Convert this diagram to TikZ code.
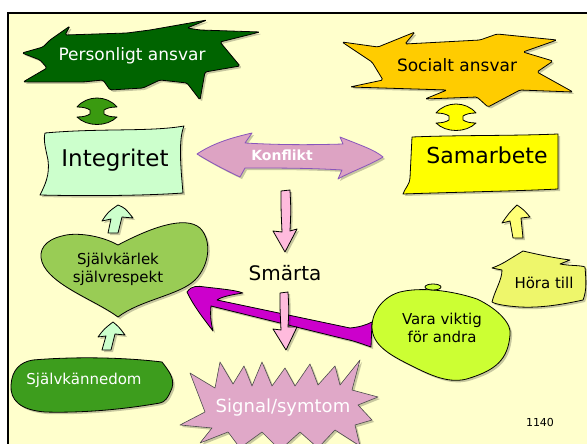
\documentclass[tikz,border=0pt]{standalone}
\usepackage{fontspec}
\setmainfont{DejaVu Sans}
\definecolor{bgy}{HTML}{FFFFCC}
\definecolor{dkgreen}{HTML}{006400}
\definecolor{midgreen}{HTML}{3A9A10}
\definecolor{kgreen}{HTML}{3D9D1D}
\definecolor{mint}{HTML}{CCFFCC}
\definecolor{heartg}{HTML}{99CC55}
\definecolor{gold}{HTML}{FFCC00}
\definecolor{yel}{HTML}{FFFF00}
\definecolor{yarrow}{HTML}{FFFF77}
\definecolor{hora}{HTML}{EEF66B}
\definecolor{vara}{HTML}{CCFF33}
\definecolor{mag}{HTML}{CC00CC}
\definecolor{pinkarr}{HTML}{FFBBDD}
\definecolor{konf}{HTML}{DDA3C3}
\definecolor{konfline}{HTML}{8855BB}
\definecolor{sig}{HTML}{E0A8C8}
\tikzset{
  shade/.style={preaction={fill=black,opacity=0.22,transform canvas={xshift=2pt,yshift=-2pt}}},
  shapeline/.style={draw=black,line width=0.8pt,line join=round},
  lbl/.style={inner sep=0pt,align=center},
  ishape/.pic={\path[pic actions] (-20,-4) .. controls (-10,-16) and (10,-16) .. (20,-4)
     .. controls (14,-4) and (10,-3) .. (7,-1) -- (7,3)
     .. controls (10,5) and (14,6) .. (20,6)
     .. controls (10,16) and (-10,16) .. (-20,6)
     .. controls (-14,6) and (-10,5) .. (-7,3) -- (-7,-1)
     .. controls (-10,-3) and (-14,-4) .. (-20,-4) -- cycle;}
}
\begin{document}
\begin{tikzpicture}[x=1pt,y=-1pt]
\useasboundingbox (0,0) rectangle (587,444);
\fill[white] (0,0) rectangle (587,444);
\fill[bgy] (8,13) rectangle (587,444);
\draw[line width=2.5pt] (8,444) -- (8,13) -- (587,13);

% Personligt ansvar
\path[shapeline,fill=dkgreen,shade,rounded corners=1.5pt]
 (22,53) -- (43,47) -- (50,40) -- (70,26) -- (65,35) -- (127,33) -- (150,30) -- (207,20)
 -- (187,28) -- (200,30) -- (260,32) -- (220,42) -- (240,66) -- (205,72) -- (200,100)
 -- (187,83) -- (160,80) -- (143,88) -- (110,90) -- (103,80) -- (83,82) -- (23,82)
 -- (47,68) -- (40,60) -- cycle;
\node[lbl,text=white,font=\fontsize{17}{20}\selectfont] (pers) at (132,56) {Personligt ansvar};

% Socialt ansvar
\path[shapeline,fill=gold,shade,rounded corners=1.5pt]
 (342,42) -- (378,47) -- (415,32) -- (405,44) -- (480,40) -- (497,34) -- (557,40)
 -- (523,52) -- (553,61) -- (537,72) -- (573,92) -- (520,90) -- (488,107) -- (477,97)
 -- (425,99) -- (447,90) -- (350,87) -- (383,80) -- (372,62) -- cycle;
\node[lbl,font=\fontsize{17}{20}\selectfont] (soc) at (457,65) {Socialt ansvar};

% I-shapes
\pic[shapeline,fill=midgreen,shade] at (97,111) {ishape};
\pic[shapeline,fill=yel,shade] at (456,117) {ishape};

% Integritet
\path[shapeline,fill=mint,shade]
 (45,133) .. controls (100,128) and (150,132) .. (184,126)
 .. controls (178,140) and (181,170) .. (183,193)
 .. controls (140,196) and (80,196) .. (40,195)
 .. controls (45,185) and (50,175) .. (48,160)
 .. controls (46,150) and (43,140) .. (45,133) -- cycle;
\node[lbl,font=\fontsize{23}{26}\selectfont] (integ) at (115,160) {Integritet};

% Samarbete
\path[shapeline,fill=yel,shade]
 (412,137) .. controls (460,135) and (510,136) .. (558,134)
 -- (558,189) .. controls (520,191) and (460,192) .. (403,194)
 .. controls (405,188) and (410,184) .. (410,178) -- cycle;
\node[lbl,font=\fontsize{22}{25}\selectfont] (samar) at (487,155) {Samarbete};

% Konflikt
\path[draw=konfline,line width=0.8pt,fill=konf,shade,line join=round]
 (197,154) .. controls (215,142) and (235,137) .. (252,133) -- (245,143)
 .. controls (280,145) and (310,145) .. (343,144) -- (340,137)
 .. controls (360,145) and (375,150) .. (383,157)
 .. controls (370,165) and (350,172) .. (338,179) -- (342,170)
 .. controls (310,168) and (280,168) .. (245,168) -- (240,177)
 .. controls (225,170) and (210,162) .. (197,154) -- cycle;
\node[lbl,text=white,font=\bfseries\fontsize{14}{16}\selectfont] (konf) at (282,155) {Konflikt};

% pink arrow 1
\path[shapeline,fill=pinkarr,shade]
 (281,191) -- (290,190) .. controls (291,210) .. (290,231) -- (297,229) -- (285,252)
 -- (273,231) -- (282,232) .. controls (281,210) .. (281,191) -- cycle;

\node[lbl,font=\fontsize{20}{23}\selectfont] (smarta) at (285,273) {Smärta};

% heart
\path[shapeline,fill=heartg,shade]
 (118,245) .. controls (100,235) and (75,232) .. (62,236)
 .. controls (45,240) and (38,250) .. (42,262)
 .. controls (50,285) and (95,300) .. (118,317)
 .. controls (140,300) and (180,295) .. (195,280)
 .. controls (210,265) and (212,240) .. (200,228)
 .. controls (185,215) and (150,228) .. (118,245) -- cycle;
\node[lbl,font=\fontsize{15}{18}\selectfont] (heart) at (118,269) {Självkärlek\\självrespekt};

% mint arrows
\path[shapeline,fill=mint,shade]
 (118,205) .. controls (125,208) .. (133,218) -- (122,217) -- (118,233) -- (108,233)
 -- (111,219) -- (102,221) .. controls (108,212) .. (118,205) -- cycle;
\path[shapeline,fill=mint,shade]
 (113,322) .. controls (119,327) .. (125,335) -- (115,334) -- (111,350) -- (102,350)
 -- (106,336) -- (98,337) .. controls (104,329) .. (113,322) -- cycle;

% Självkännedom
\path[shapeline,fill=kgreen,shade]
 (33,360) .. controls (80,356) and (130,358) .. (162,362)
 .. controls (168,370) and (175,378) .. (172,388)
 .. controls (168,398) and (165,402) .. (160,403)
 .. controls (120,410) and (80,413) .. (45,412)
 .. controls (20,410) and (10,400) .. (11,385)
 .. controls (12,370) and (20,362) .. (33,360) -- cycle;
\node[lbl,text=white,font=\fontsize{15}{18}\selectfont] (kann) at (84,380) {Självkännedom};

% Signal/symtom
\path[draw=black!70,line width=0.6pt,fill=sig,shade,line join=round]
 (180,425) -- (205,412) -- (190,373) -- (215,388) -- (220,362) -- (233,384) -- (244,366)
 -- (252,386) -- (262,362) -- (272,386) -- (285,368) -- (295,386) -- (310,364) -- (318,385)
 -- (335,366) -- (340,385) -- (360,360) -- (352,390) -- (378,397) -- (358,405) -- (372,420)
 -- (355,425) -- (360,446) -- (335,430) -- (318,448) -- (300,432) -- (280,450) -- (262,432)
 -- (240,448) -- (228,432) -- (200,443) -- (212,428) -- cycle;
\node[lbl,text=white,font=\fontsize{18}{21}\selectfont] (sig) at (283,408) {Signal/symtom};

% magenta arrow
\path[shapeline,fill=mag,shade]
 (187,292) .. controls (192,285) and (198,286) .. (205,287)
 .. controls (222,289) and (235,290) .. (243,293)
 .. controls (230,295) and (221,297) .. (217,300) -- (350,328)
 .. controls (360,327) and (366,325) .. (372,322) -- (371,347)
 .. controls (362,344) and (355,341) .. (345,339) -- (211,306)
 .. controls (210,315) and (211,323) .. (213,331)
 .. controls (203,318) and (193,305) .. (187,292) -- cycle;

% pink arrow 2
\path[shapeline,fill=pinkarr,shade]
 (280,293) -- (288,292) .. controls (289,310) .. (288,327) -- (297,327) -- (286,350)
 -- (273,329) -- (281,330) .. controls (280,310) .. (280,293) -- cycle;

% Vara viktig
\path[shapeline,fill=vara,shade]
 (372,327) .. controls (372,310) and (385,296) .. (400,292)
 .. controls (420,287) and (450,290) .. (477,299)
 .. controls (500,310) and (512,325) .. (510,335)
 .. controls (508,360) and (495,370) .. (470,378)
 .. controls (450,385) and (430,375) .. (410,365)
 .. controls (390,355) and (372,345) .. (372,327) -- cycle;
\path[shapeline,fill=vara] (433,287) ellipse [x radius=8, y radius=3];
\node[lbl,font=\fontsize{15}{18}\selectfont] (vara) at (442,328) {Vara viktig\\för andra};

% Höra till
\path[shapeline,fill=hora,shade]
 (492,268) .. controls (498,266) and (503,263) .. (505,262) -- (523,251)
 .. controls (540,255) and (555,258) .. (570,260) -- (560,264)
 .. controls (570,266) and (580,265) .. (585,267)
 .. controls (586,280) and (587,290) .. (583,300)
 .. controls (560,305) and (540,308) .. (520,307)
 .. controls (505,306) and (495,304) .. (492,302)
 .. controls (495,290) and (502,280) .. (502,270) -- cycle;
\node[lbl,font=\fontsize{15}{18}\selectfont] (hora) at (544,283) {Höra till};

% yellow arrow
\path[shapeline,fill=yarrow,shade]
 (517,205) .. controls (524,210) .. (530,217) -- (521,218) -- (523,238) -- (513,238)
 -- (510,221) -- (502,223) .. controls (509,213) .. (517,205) -- cycle;

\node[lbl,font=\fontsize{11}{13}\selectfont] (num) at (540,422) {1140};
\end{tikzpicture}
\end{document}
